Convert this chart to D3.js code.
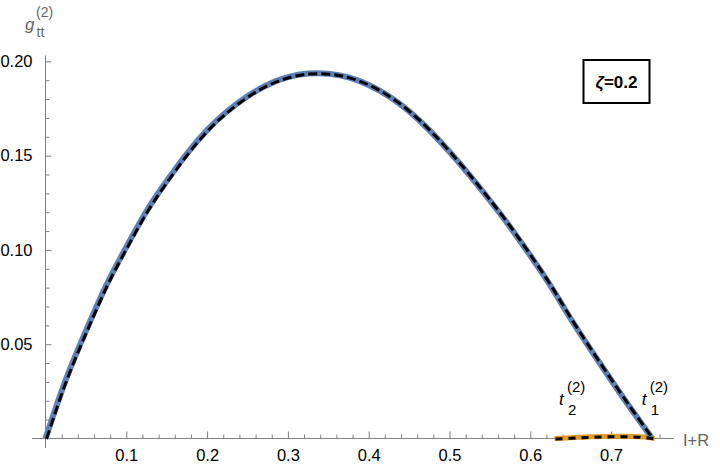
<!DOCTYPE html>
<html>
<head>
<meta charset="utf-8">
<script src="https://cdn.jsdelivr.net/npm/d3@7"></script>
<style>
  body { margin: 0; background: #fff; }
  text { font-family: "Liberation Sans", Arial, sans-serif; }
</style>
</head>
<body>
<script>
// g_tt^(2) vs I+R, zeta = 0.2
var irValues = [0, 0.025, 0.05, 0.075, 0.1, 0.125, 0.15, 0.175, 0.2, 0.225, 0.25, 0.275, 0.3, 0.325, 0.35,
                0.375, 0.4, 0.425, 0.45, 0.475, 0.5, 0.525, 0.55, 0.575, 0.6, 0.625, 0.65, 0.675, 0.7, 0.725, 0.75];
var g2Values = [0, 0.031, 0.057, 0.081, 0.1015, 0.1205, 0.1365, 0.151, 0.1635, 0.1735, 0.1815, 0.1876, 0.1916, 0.1935, 0.1934,
                0.1915, 0.1875, 0.1815, 0.1735, 0.1635, 0.152, 0.1395, 0.1262, 0.1122, 0.097, 0.081, 0.0635, 0.047, 0.031, 0.0155, 0.0005];

// second (tiny) component near the right end
var irSmall = [0.63, 0.645, 0.66, 0.675, 0.69, 0.705, 0.72, 0.735, 0.745, 0.754];
var g2Small = [0, 0.0003, 0.0006, 0.0009, 0.0011, 0.0012, 0.0012, 0.0009, 0.0005, 0];

var xMajor = [0.1, 0.2, 0.3, 0.4, 0.5, 0.6, 0.7];
var xMinor = [0.02, 0.04, 0.06, 0.08, 0.12, 0.14, 0.16, 0.18, 0.22, 0.24, 0.26, 0.28, 0.32, 0.34, 0.36, 0.38,
              0.42, 0.44, 0.46, 0.48, 0.52, 0.54, 0.56, 0.58, 0.62, 0.64, 0.66, 0.68, 0.72, 0.74, 0.76];
var yMajor = [0.05, 0.10, 0.15, 0.20];
var yMinor = [0.01, 0.02, 0.03, 0.04, 0.06, 0.07, 0.08, 0.09, 0.11, 0.12, 0.13, 0.14, 0.16, 0.17, 0.18, 0.19];

var zetaLabel = "0.2";

var width = 720, height = 474;

var svg = d3.select("body").append("svg")
    .attr("width", width)
    .attr("height", height);

var x = d3.scaleLinear().domain([0, 0.7775]).range([45.5, 673.7]);
var y = d3.scaleLinear().domain([0, 0.2031]).range([438.5, 55.5]);

var axisColor = "#808080";

// axis lines (crossing at origin)
svg.append("line")
    .attr("x1", 32).attr("x2", x(0.7775))
    .attr("y1", y(0)).attr("y2", y(0))
    .attr("stroke", axisColor).attr("stroke-width", 1);
svg.append("line")
    .attr("x1", x(0)).attr("x2", x(0))
    .attr("y1", y(0) + 9.5).attr("y2", y(0.2031))
    .attr("stroke", axisColor).attr("stroke-width", 1);

// x ticks
var xAxis = svg.append("g")
    .attr("transform", "translate(0," + y(0) + ")")
    .call(d3.axisBottom(x).tickValues(xMajor).tickSize(-7).tickPadding(20)
        .tickFormat(d3.format(".1f")));
xAxis.select(".domain").remove();
xAxis.selectAll(".tick line").attr("stroke", axisColor);
xAxis.selectAll(".tick text").attr("font-size", 16.5).attr("fill", "#000").attr("dy", "0.15em");

var xAxisMinor = svg.append("g")
    .attr("transform", "translate(0," + y(0) + ")")
    .call(d3.axisBottom(x).tickValues(xMinor).tickSize(-4).tickFormat(""));
xAxisMinor.select(".domain").remove();
xAxisMinor.selectAll(".tick line").attr("stroke", axisColor);

// y ticks
var yAxis = svg.append("g")
    .attr("transform", "translate(" + x(0) + ",0)")
    .call(d3.axisLeft(y).tickValues(yMajor).tickSize(-6).tickPadding(13)
        .tickFormat(d3.format(".2f")));
yAxis.select(".domain").remove();
yAxis.selectAll(".tick line").attr("stroke", axisColor);
yAxis.selectAll(".tick text").attr("font-size", 16.5).attr("fill", "#000");

var yAxisMinor = svg.append("g")
    .attr("transform", "translate(" + x(0) + ",0)")
    .call(d3.axisLeft(y).tickValues(yMinor).tickSize(-4).tickFormat(""));
yAxisMinor.select(".domain").remove();
yAxisMinor.selectAll(".tick line").attr("stroke", axisColor);

// curves
var line = d3.line()
    .x(function(d) { return x(d[0]); })
    .y(function(d) { return y(d[1]); })
    .curve(d3.curveNatural);

var mainData = irValues.map(function(v, i) { return [v, g2Values[i]]; });
var smallData = irSmall.map(function(v, i) { return [v, g2Small[i]]; });

svg.append("path")
    .datum(smallData)
    .attr("d", line)
    .attr("fill", "none")
    .attr("stroke", "#E19C24")
    .attr("stroke-width", 5);

svg.append("path")
    .datum(mainData)
    .attr("d", line)
    .attr("fill", "none")
    .attr("stroke", "#5E81B5")
    .attr("stroke-width", 6);

svg.append("path")
    .datum(smallData)
    .attr("d", line)
    .attr("fill", "none")
    .attr("stroke", "#000")
    .attr("stroke-width", 3)
    .attr("stroke-dasharray", "7,6")
    .attr("transform", "translate(1,0.5)");

svg.append("path")
    .datum(mainData)
    .attr("d", line)
    .attr("fill", "none")
    .attr("stroke", "#000")
    .attr("stroke-width", 3)
    .attr("stroke-dasharray", "9,4")
    .attr("transform", "translate(1,0.5)");

// axis labels
var labelColor = "#666";
svg.append("text")
    .attr("x", 25).attr("y", 30)
    .attr("font-size", 17).attr("font-style", "italic").attr("fill", labelColor)
    .text("g");
svg.append("text")
    .attr("x", 36).attr("y", 17)
    .attr("font-size", 14).attr("fill", labelColor)
    .text("(2)");
svg.append("text")
    .attr("x", 36.5).attr("y", 37)
    .attr("font-size", 14).attr("fill", labelColor)
    .text("tt");

svg.append("text")
    .attr("x", 683).attr("y", 446)
    .attr("font-size", 16.5).attr("fill", labelColor)
    .text("I+R");

// t labels near the curves
function tLabel(u, v, sub) {
    var px = x(u), py = y(v);
    svg.append("text")
        .attr("x", px).attr("y", py)
        .attr("font-size", 17).attr("font-style", "italic")
        .text("t");
    svg.append("text")
        .attr("x", px + 8).attr("y", py - 12.5)
        .attr("font-size", 15)
        .text("(2)");
    svg.append("text")
        .attr("x", px + 9).attr("y", py + 10)
        .attr("font-size", 15)
        .text(sub);
}
tLabel(0.6355, 0.0178, "2");
tLabel(0.738, 0.0178, "1");

// zeta box
svg.append("rect")
    .attr("x", 583.5).attr("y", 60)
    .attr("width", 66).attr("height", 43)
    .attr("fill", "#fff")
    .attr("stroke", "#000")
    .attr("stroke-width", 2);
var zt = svg.append("text")
    .attr("x", 616.5).attr("y", 87.5)
    .attr("text-anchor", "middle")
    .attr("font-size", 17).attr("font-weight", "bold");
zt.append("tspan").attr("font-style", "italic").text("ζ");
zt.append("tspan").text("=" + zetaLabel);
</script>
</body>
</html>
